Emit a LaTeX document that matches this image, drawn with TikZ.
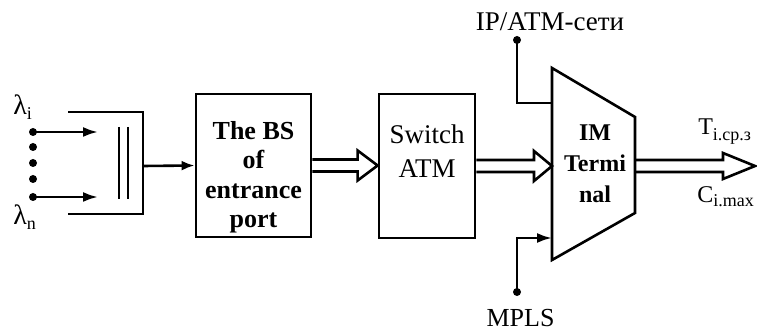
\documentclass[tikz,border=0pt]{standalone}
\usepackage{fontspec}
\setmainfont{Liberation Serif}
\usetikzlibrary{arrows.meta,calc,positioning}

\newcommand{\lowsub}[2][-6pt]{\raisebox{#1}{\fontsize{18}{18}\selectfont #2}}
% wide hollow arrow: from, to, head length, head half width, shaft half width
\newcommand{\hollowarrow}[5]{%
  \draw[line width=2.6pt] let \p1=(#1), \p2=(#2) in
    (\x1,\y1+#5pt) -- (\x2-#3pt,\y1+#5pt) -- (\x2-#3pt,\y1+#4pt) -- (\x2,\y1)
    -- (\x2-#3pt,\y1-#4pt) -- (\x2-#3pt,\y1-#5pt) -- (\x1,\y1-#5pt);}

\begin{document}
\begin{tikzpicture}[x=1pt, y=1pt, line width=2.6pt,
    >={Latex[length=15pt,width=10pt]},
    block/.style={draw, line width=2.8pt, inner sep=0pt},
    dot/.style={circle, fill, inner sep=0pt, minimum size=8pt},
    txt/.style={inner sep=0pt, font=\fontsize{26}{30}\selectfont}]
    \useasboundingbox (0,0) rectangle (757,332);

    % inputs
    \node [txt, anchor=base west, font=\fontsize{28}{28}\selectfont] (lami) at (12,217) {λ\lowsub[-5pt]{i}};
    \node [txt, anchor=base west, font=\fontsize{28}{28}\selectfont] (lamn) at (12,107) {λ\lowsub[-5pt]{n}};
    \foreach \i/\y in {1/200,2/185,3/169,4/153,5/135}
        \node [dot] (d\i) at (33,\y) {};
    \coordinate (a1) at (98,200);
    \coordinate (a5) at (98,135);
    \draw [->] (d1.center) -- (a1);
    \draw [->] (d5.center) -- (a5);

    % multiplexer
    \coordinate (mux) at (143,166);
    \draw (68,220) -- (143,220) -- (143,118) -- (68,118);
    \draw (119,205) -- (119,133);
    \draw (128,205) -- (128,133);

    % BS of entrance port
    \node [block,
        minimum width=115,
        minimum height=143
    ]  (BS) at (253.5,166.5) {};
    \node [txt, align=center, font=\bfseries\fontsize{26}{29.5}\selectfont] (BStext) at (253.5,155) {The BS\\of\\entrance\\port};
    \draw [->, >={Latex[length=13pt,width=10pt]}] (mux) -- (BS.west);

    % Switch ATM
    \node [block,
        minimum width=96,
        minimum height=144
    ]  (SW) at (427,166) {};
    \node [txt, align=center, font=\fontsize{27}{34}\selectfont] (SWtext) at (427,181) {Switch\\ATM};
    \hollowarrow{BS.east}{SW.west}{20}{15}{6}

    % IM terminal
    \coordinate (tl) at (552,264);
    \coordinate (tr) at (635,215);
    \coordinate (br) at (635,119);
    \coordinate (bl) at (552,72);
    \draw [line join=miter] (tl) -- (tr) -- (br) -- (bl) -- cycle;
    \coordinate (IMin) at (552,166);
    \coordinate (IMout) at (635,166);
    \coordinate (IMtop) at (552,229);
    \coordinate (IMbot) at (552,94);
    \node [txt, align=center, font=\bfseries\fontsize{24}{31}\selectfont] (IMtext) at (595,168) {IM\\Termi\\nal};
    \hollowarrow{SW.east}{IMin}{18}{15}{6}

    % networks
    \node [dot] (ipdot) at (517,292) {};
    \node [dot] (mpdot) at (517,40) {};
    \node [txt, anchor=base, font=\fontsize{27}{30}\selectfont] (IP) at (550,301) {IP/ATM-сети};
    \node [txt, anchor=base] (MPLS) at (520.5,6) {MPLS};
    \draw (ipdot.center) |- (IMtop);
    \draw [->] (mpdot.center) |- (IMbot);

    % output
    \coordinate (out) at (755,166);
    \hollowarrow{IMout}{out}{32}{13}{6}
    \node [txt, anchor=base west, font=\fontsize{24}{24}\selectfont] (T) at (697,197) {T\lowsub{i.ср.з}};
    \node [txt, anchor=base west, font=\fontsize{24}{24}\selectfont] (C) at (696,129) {C\lowsub[-4pt]{i.max}};

\end{tikzpicture}
\end{document}
